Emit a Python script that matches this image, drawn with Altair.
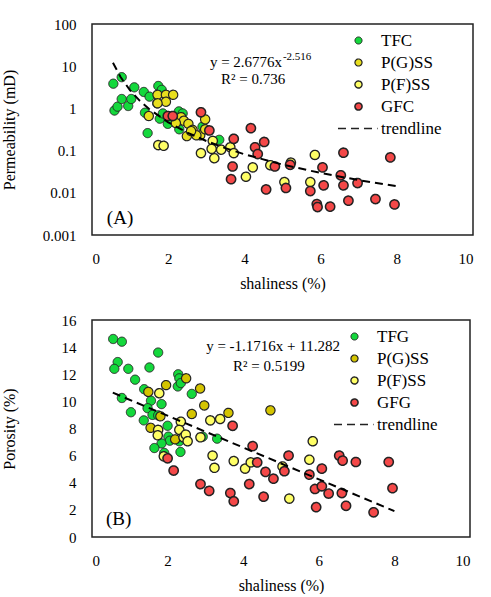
import altair as alt
import pandas as pd

FONT = "Liberation Serif"

# ---------------- Panel A : permeability (mD) vs shaliness (%) ----------------
a_tfc_x = [0.56, 0.78, 0.59, 0.67, 0.78, 0.95, 1.03, 1.11, 1.36, 1.51, 1.39, 1.46, 1.74, 1.83,
           1.71, 1.78, 1.86, 1.99, 2.28, 2.29, 2.90, 3.34, 2.38]
a_tfc_y = [3.85, 5.5, 0.89, 1.1, 1.67, 1.14, 1.67, 3.16, 2.45, 1.9, 0.79, 0.26, 3.4, 2.75,
           1.32, 0.57, 0.76, 0.43, 0.85, 0.32, 0.37, 0.18, 0.76]
a_pg_x = [1.49, 1.72, 1.94, 2.13, 1.94, 1.72, 2.34, 2.41, 2.53, 2.64, 2.84, 2.97, 2.49, 2.97,
          2.74, 2.60, 2.20]
a_pg_y = [0.66, 2.1, 2.1, 2.1, 1.44, 1.32, 0.62, 0.51, 0.43, 0.31, 0.23, 0.55, 0.22, 0.32,
          0.23, 0.29, 0.45]
a_pf_x = [1.74, 1.88, 3.17, 3.14, 3.39, 3.63, 3.72, 2.86, 3.21, 4.04, 4.22, 4.68, 5.05, 5.22,
          5.85, 5.73]
a_pf_y = [0.135, 0.13, 0.17, 0.11, 0.105, 0.12, 0.087, 0.087, 0.066, 0.024, 0.04, 0.045,
          0.018, 0.052, 0.079, 0.018]
a_gfc_x = [1.99, 2.12, 2.86, 3.08, 3.72, 4.17, 4.28, 4.35, 4.52, 3.69, 3.65, 4.57, 4.80, 5.09,
           5.20, 5.73, 5.90, 5.92, 6.25, 6.05, 6.08, 6.53, 6.60, 6.60, 6.73, 6.97, 7.44, 7.83, 7.94]
a_gfc_y = [0.66, 0.66, 0.81, 0.30, 0.19, 0.34, 0.12, 0.083, 0.16, 0.042, 0.021, 0.012, 0.042,
           0.013, 0.046, 0.011, 0.0054, 0.0046, 0.0047, 0.040, 0.015, 0.026, 0.089, 0.015,
           0.0065, 0.017, 0.0071, 0.069, 0.0053]
a_trend_x = [0.55, 0.75, 1.0, 1.25, 1.5, 2.0, 2.5, 3.0, 3.5, 4.0, 5.0, 6.0, 7.0, 8.0]
a_trend_y = [12.05, 5.52, 2.68, 1.53, 0.965, 0.468, 0.267, 0.169, 0.1145, 0.0819, 0.0467,
             0.0295, 0.0200, 0.0143]

# ---------------- Panel B : porosity (%) vs shaliness (%) ----------------
b_tfg_x = [0.56, 0.79, 0.68, 0.59, 0.96, 1.14, 1.75, 1.52, 0.79, 1.03, 1.38, 1.56, 1.47, 1.60,
           1.37, 1.84, 1.75, 2.00, 2.02, 2.06, 1.84, 1.65, 1.91, 2.28, 2.31, 2.27, 2.35, 2.64,
           2.34, 2.31, 2.93, 3.31]
b_tfg_y = [14.6, 14.4, 12.9, 12.4, 12.4, 11.6, 13.6, 12.5, 10.25, 9.2, 10.9, 10.05, 9.5, 9.0,
           8.6, 9.8, 8.97, 8.2, 7.4, 7.1, 6.9, 6.56, 6.2, 12.0, 11.7, 11.1, 11.35, 10.55,
           6.27, 7.06, 7.4, 7.25]
b_pg_x = [1.96, 1.49, 2.49, 2.86, 2.97, 2.64, 1.81, 3.61, 4.72, 2.20, 1.55]
b_pg_y = [11.2, 10.7, 11.7, 10.95, 9.7, 9.07, 8.9, 9.15, 9.34, 7.2, 8.05]
b_pf_x = [1.78, 1.75, 1.74, 2.35, 2.31, 2.42, 2.48, 2.53, 2.87, 3.13, 3.39, 3.19, 3.24, 3.75,
          4.05, 4.20, 1.90, 5.04, 5.22, 5.75, 5.84]
b_pf_y = [10.6, 7.9, 7.5, 8.5, 7.9, 7.35, 7.55, 7.06, 7.35, 8.6, 8.7, 6.0, 5.1, 5.6,
          5.04, 5.5, 5.95, 5.2, 2.83, 5.7, 7.06]
b_gfg_x = [2.00, 2.16, 3.72, 2.87, 3.10, 3.66, 3.75, 4.16, 4.25, 4.37, 4.59, 4.80, 4.54, 5.20,
           5.09, 5.75, 6.08, 5.90, 6.08, 5.93, 6.26, 6.54, 6.63, 6.61, 6.72, 6.98, 7.45, 7.85, 7.95]
b_gfg_y = [5.8, 4.9, 8.2, 3.9, 3.4, 3.24, 2.63, 3.9, 6.7, 5.5, 4.8, 4.3, 2.97, 6.0,
           4.85, 4.6, 5.04, 3.54, 3.74, 2.2, 3.2, 6.0, 5.63, 3.24, 2.3, 5.53, 1.82, 5.53, 3.6]
b_trend_x = [0.55, 8.0]
b_trend_y = [10.64, 1.91]

A_NAMES = ["TFC", "P(G)SS", "P(F)SS", "GFC", "trendline"]
B_NAMES = ["TFG", "P(G)SS", "P(F)SS", "GFG", "trendline"]
A_COLORS = ["#14d83c", "#e8de1e", "#ffff66", "#f44848", "#000000"]
B_COLORS = ["#14d83c", "#d4c400", "#ffff66", "#f44848", "#000000"]
SHAPES = ["circle", "circle", "circle", "circle", "M-5.8,0H5.4"]
DASHES = [[1, 0], [1, 0], [1, 0], [1, 0], [8, 5]]
WIDTHS = [1, 1.7, 1, 1, 2]
X_TICKS = [0, 2, 4, 6, 8, 10]

AXIS_STYLE = dict(labelFont=FONT, labelFontSize=15, labelColor="black",
                  titleFont=FONT, titleFontSize=16, titleColor="black", titleFontWeight="normal",
                  tickSize=0, ticks=False, domain=False, grid=False, labelOverlap=False)


def points_df(groups):
    rows = []
    for name, xs, ys in groups:
        for x, y in zip(xs, ys):
            rows.append({"x": x, "y": y, "series": name})
    return pd.DataFrame(rows)


def text_layer(df, size, align):
    return alt.Chart(df).mark_text(font=FONT, fontSize=size, color="black", align=align,
                                   baseline="middle").encode(text="t:N")


def panel(df, trend, names, colors, yscale, yaxis, width, height, legx, legy, texts):
    leg = alt.Legend(title=None, orient="none", legendX=legx, legendY=legy,
                     labelFont=FONT, labelFontSize=17, labelColor="black",
                     symbolSize=50, rowPadding=4, labelOffset=14, padding=0)
    xenc = alt.X("x:Q", scale=alt.Scale(domain=[0, 10], nice=False),
                 axis=alt.Axis(values=X_TICKS, title="shaliness (%)", labelPadding=16,
                               titlePadding=9, **AXIS_STYLE))
    yenc = alt.Y("y:Q", scale=yscale, axis=yaxis)
    pts = alt.Chart(df).mark_point(filled=True, size=85, stroke="#222222", opacity=1).encode(
        color=alt.Color("series:N", scale=alt.Scale(domain=names, range=colors), legend=leg,
                        sort=names),
        shape=alt.Shape("series:N", scale=alt.Scale(domain=names, range=SHAPES), legend=leg,
                        sort=names),
        strokeDash=alt.StrokeDash("series:N", scale=alt.Scale(domain=names, range=DASHES),
                                  legend=leg, sort=names),
        strokeWidth=alt.StrokeWidth("series:N", scale=alt.Scale(domain=names, range=WIDTHS),
                                    legend=leg, sort=names),
    )
    line = alt.Chart(trend).mark_line(strokeDash=[8, 5], strokeWidth=2).encode(
        color=alt.value("black"))
    layers = [pts, line] + [text_layer(d, s, a) for (d, s, a) in texts]
    return alt.layer(*layers).encode(x=xenc, y=yenc).properties(width=width, height=height)


df_a = points_df([("TFC", a_tfc_x, a_tfc_y), ("P(G)SS", a_pg_x, a_pg_y),
                  ("P(F)SS", a_pf_x, a_pf_y), ("GFC", a_gfc_x, a_gfc_y)])
df_b = points_df([("TFG", b_tfg_x, b_tfg_y), ("P(G)SS", b_pg_x, b_pg_y),
                  ("P(F)SS", b_pf_x, b_pf_y), ("GFG", b_gfg_x, b_gfg_y)])
trend_a = pd.DataFrame({"x": a_trend_x, "y": a_trend_y})
trend_b = pd.DataFrame({"x": b_trend_x, "y": b_trend_y})

eq_a = pd.DataFrame({"x": [4.99], "y": [12.6], "t": ["y = 2.6776x"]})
r2_a = pd.DataFrame({"x": [4.23], "y": [4.98], "t": ["R² = 0.736"]})
sup_a = pd.DataFrame({"x": [5.01], "y": [16.5], "t": ["-2.516"]})
label_a = pd.DataFrame({"x": [0.39], "y": [0.00253], "t": ["(A)"]})
eq_b = pd.DataFrame({"x": [4.79, 4.68], "y": [14.09, 12.61],
                     "t": ["y = -1.1716x + 11.282", "R² = 0.5199"]})
label_b = pd.DataFrame({"x": [0.37], "y": [1.33], "t": ["(B)"]})

yaxis_a = alt.Axis(values=[0.001, 0.01, 0.1, 1, 10, 100], format="~g", title="Permeability (mD)",
                   labelPadding=16, titleX=-75, **AXIS_STYLE)
yaxis_b = alt.Axis(values=list(range(0, 17, 2)), title="Porosity (%)", labelPadding=16,
                   titleX=-75, **AXIS_STYLE)

top = panel(df_a, trend_a, A_NAMES, A_COLORS,
            alt.Scale(type="log", domain=[0.001, 100], nice=False), yaxis_a,
            381, 211, 258, 8,
            [(eq_a, 15, "right"), (r2_a, 15, "center"), (sup_a, 11, "left"), (label_a, 19, "left")])
bottom = panel(df_b, trend_b, B_NAMES, B_COLORS,
               alt.Scale(domain=[0, 16], nice=False), yaxis_b,
               378, 217, 254, 8,
               [(eq_b, 15, "center"), (label_b, 19, "left")])

chart = alt.vconcat(top, bottom, spacing=20).resolve_scale(
    color="independent", shape="independent", strokeDash="independent",
    strokeWidth="independent", x="independent", y="independent"
).resolve_legend(
    color="independent", shape="independent", strokeDash="independent", strokeWidth="independent"
).properties(
    padding={"left": 0, "top": 16, "right": 0, "bottom": 0}
).configure(
    font=FONT,
    style={"guide-label": {"font": FONT}, "guide-title": {"font": FONT}}
).configure_view(
    stroke="#222222", strokeWidth=1.5
).configure_axis(
    labelFont=FONT, titleFont=FONT, labelFontSize=15, titleFontSize=16
).configure_text(
    font=FONT
)

chart.save("out.html", embed_options={"renderer": "svg", "actions": False})
